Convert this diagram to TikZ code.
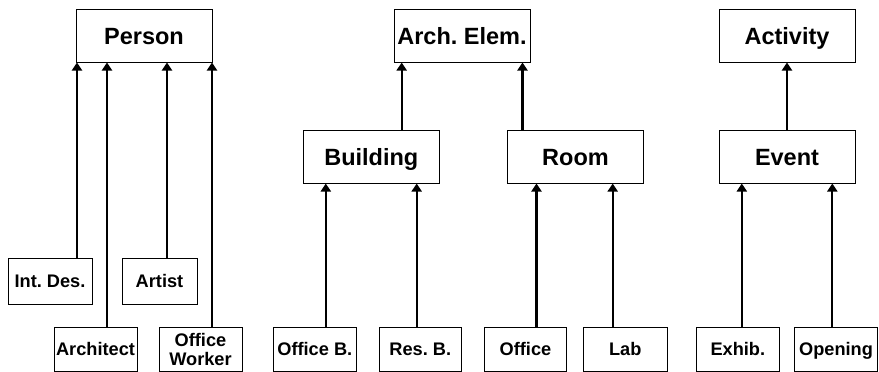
\documentclass[tikz,border=0pt]{standalone}
\usepackage{fontspec}
\setmainfont{Liberation Sans}
\usetikzlibrary{arrows.meta}
\frenchspacing
\begin{document}
\begin{tikzpicture}[x=1pt,y=-1pt,
  bigbox/.style={draw,line width=1pt,inner sep=0pt,minimum width=136pt,minimum height=53pt,
    text height=17pt,text depth=-1pt,
    font=\fontsize{23.5}{27}\selectfont\bfseries},
  smallbase/.style={draw,line width=1pt,inner sep=0pt,minimum width=83pt,minimum height=44pt,
    align=center,font=\fontsize{18.2}{19}\selectfont\bfseries},
  smallbox/.style={smallbase,text height=13pt,text depth=-1pt},
  arr/.style={line width=2.3pt,-{Triangle[width=10pt,length=8pt]}}]
\useasboundingbox (0,0) rectangle (879,372);
% top level
\node[bigbox] (person) at (144,35.5) {Person};
\node[bigbox] (arch) at (462,35.5) {Arch. Elem.};
\node[bigbox] (activity) at (787,35.5) {Activity};
% mid level
\node[bigbox] (building) at (371.3,156.5) {Building};
\node[bigbox] (room) at (575.5,156.5) {Room};
\node[bigbox] (event) at (787,156.5) {Event};
% person children
\node[smallbox,minimum width=84pt,minimum height=46pt] (intdes) at (50,281) {Int. Des.};
\node[smallbox,minimum width=75pt,minimum height=46pt] (artist) at (159.5,281) {Artist};
\node[smallbox] (architect) at (95.5,349) {Architect};
\node[smallbase] (worker) at (200.5,349) {Office\\Worker};
% building / room children
\node[smallbox] (officeb) at (314.8,349) {Office B.};
\node[smallbox,minimum width=82pt] (resb) at (420.3,349) {Res. B.};
\node[smallbox,minimum width=82pt] (office) at (525.5,349) {Office};
\node[smallbox,minimum width=84pt] (lab) at (625.3,349) {Lab};
% event children
\node[smallbox] (exhib) at (737.8,349) {Exhib.};
\node[smallbox] (opening) at (836,349) {Opening};
% connectors
\draw[arr] ([xshift=27pt]intdes.north) -- ([xshift=27pt]intdes.north |- person.south);
\draw[arr] ([xshift=11.5pt]architect.north) -- ([xshift=11.5pt]architect.north |- person.south);
\draw[arr] ([xshift=7.5pt]artist.north) -- ([xshift=7.5pt]artist.north |- person.south);
\draw[arr] ([xshift=11.5pt]worker.north) -- ([xshift=11.5pt]worker.north |- person.south);
\draw[arr] ([xshift=30.4pt]building.north) -- ([xshift=30.4pt]building.north |- arch.south);
\draw[arr] ([xshift=-53pt]room.north) -- ([xshift=-53pt]room.north |- arch.south);
\draw[arr] (event.north) -- (activity.south);
\draw[arr] ([xshift=11pt]officeb.north) -- ([xshift=11pt]officeb.north |- building.south);
\draw[arr] ([xshift=-3.6pt]resb.north) -- ([xshift=-3.6pt]resb.north |- building.south);
\draw[arr] ([xshift=11pt]office.north) -- ([xshift=11pt]office.north |- room.south);
\draw[arr] ([xshift=-12.6pt]lab.north) -- ([xshift=-12.6pt]lab.north |- room.south);
\draw[arr] ([xshift=4pt]exhib.north) -- ([xshift=4pt]exhib.north |- event.south);
\draw[arr] ([xshift=-3.7pt]opening.north) -- ([xshift=-3.7pt]opening.north |- event.south);
\end{tikzpicture}
\end{document}
